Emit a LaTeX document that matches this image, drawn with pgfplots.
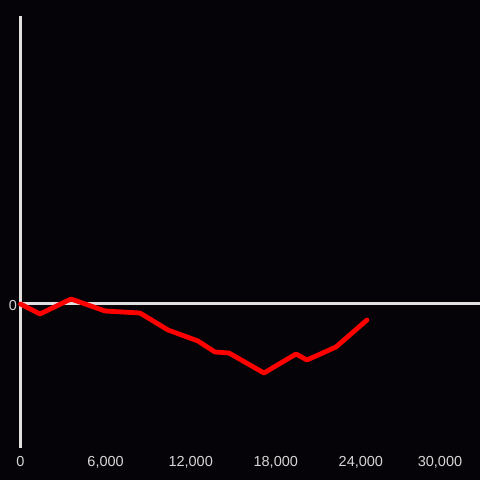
\documentclass[border=0pt]{standalone}
\usepackage{pgfplots}
\pgfplotsset{compat=1.18}
\usepackage{fontspec}
\setmainfont{Liberation Sans}
\definecolor{bg}{HTML}{050307}
\definecolor{axcol}{HTML}{E0E0E0}
\definecolor{txt}{HTML}{D6D6D6}
\begin{document}
\begin{tikzpicture}[x=1bp,y=1bp]
\fill[bg] (0,0) rectangle (480bp,480bp);
\begin{axis}[
  at={(20.5bp,32bp)}, anchor=south west,
  scale only axis, width=459.5bp, height=432bp,
  xmin=0, xmax=32400, ymin=-144, ymax=288,
  axis x line=bottom,
  axis y line=left,
  axis line style={-},
  x axis line style={draw=none},
  y axis line style={draw=axcol, line width=3bp},
  xtick={0,6000,12000,18000,24000},
  extra x ticks={30000},
  extra x tick style={xticklabel style={xshift=-6bp}},
  ytick={0},
  major tick length=0pt,
  scaled x ticks=false,
  /pgf/number format/assume math mode=true,
  /pgf/number format/1000 sep={,},
  ticklabel style={font=\fontsize{14.5bp}{16bp}\selectfont, text=txt},
  xticklabel style={yshift=-5bp},
  yticklabel style={yshift=-1.5bp},
  ymajorgrids, grid style={draw=axcol, line width=3bp},
  clip=false,
]
\addplot[red, line width=4.8bp, line join=round, line cap=round] coordinates {
 (0,0) (1375,-10) (3560,5) (5960,-7) (8425,-9) (10400,-26) (12515,-37)
 (13710,-48) (14700,-49) (17170,-69) (19425,-50) (20200,-56) (22245,-43) (24430,-16)
};
\end{axis}
\pgfresetboundingbox
\useasboundingbox (0,0) rectangle (480bp,480bp);
\end{tikzpicture}
\end{document}
